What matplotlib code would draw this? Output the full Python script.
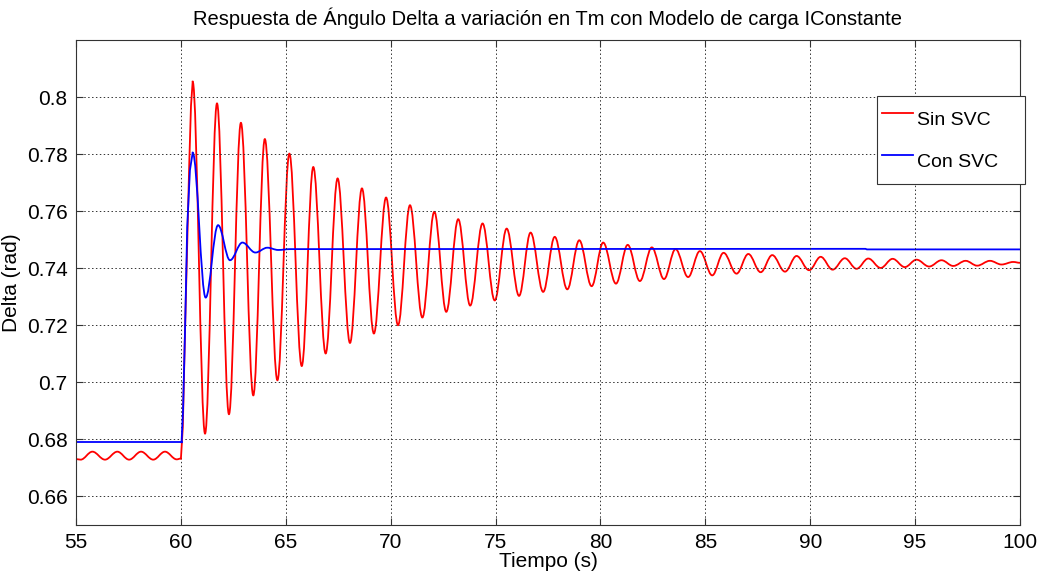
import matplotlib
matplotlib.use('Agg')
import matplotlib.pyplot as plt
from matplotlib.path import Path
from matplotlib.patches import PathPatch
from matplotlib.lines import Line2D

plt.rcParams['font.family'] = ['Liberation Sans', 'DejaVu Sans']

# Sin SVC (red): pre-step ripple, step rise, then peaks/troughs
red_pre_t = [55.0, 55.22, 55.78, 56.38, 56.97, 57.53, 58.1, 58.68, 59.24, 59.8, 60.0]
red_pre_v = [0.6731, 0.6729, 0.6757, 0.6729, 0.6757, 0.6729, 0.6757, 0.6729, 0.6757, 0.6730, 0.6733]
red_rise_t = [60.0, 60.09, 60.2, 60.28, 60.4, 60.48, 60.56]
red_rise_v = [0.6733, 0.6843, 0.7194, 0.7428, 0.7775, 0.797, 0.8054]
red_ext_t = [60.56, 61.15, 61.72, 62.29, 62.86, 63.45, 64.0, 64.6, 65.17, 65.76,
             66.31, 66.9, 67.47, 68.06, 68.63, 69.2, 69.78, 70.35, 70.92, 71.51,
             72.08, 72.65, 73.22, 73.79, 74.38, 74.96, 75.53, 76.12, 76.67, 77.27,
             77.82, 78.42, 78.99, 79.58, 80.13, 80.74, 81.3, 81.88, 82.45, 83.03,
             83.58, 84.18, 84.74, 85.33, 85.87, 86.49, 87.05, 87.64, 88.19, 88.8,
             89.35, 89.95, 90.5, 91.07, 91.65, 92.21, 92.77, 93.36, 93.93, 94.51,
             95.07, 95.67, 96.26, 96.82, 97.41, 97.96, 98.57, 99.12, 99.68, 100.0]
red_ext_v = [0.8054, 0.682, 0.7978, 0.6888, 0.791, 0.6954, 0.7853, 0.7007, 0.7802, 0.7057,
             0.7755, 0.7101, 0.7715, 0.7138, 0.768, 0.7171, 0.7648, 0.72, 0.7621, 0.7227,
             0.7598, 0.7247, 0.7572, 0.7269, 0.7557, 0.7287, 0.7539, 0.7303, 0.7525, 0.7317,
             0.751, 0.7326, 0.7498, 0.7337, 0.749, 0.7346, 0.7482, 0.7355, 0.7473, 0.7362,
             0.7467, 0.7369, 0.746, 0.7375, 0.7454, 0.7381, 0.745, 0.7386, 0.7446, 0.7388,
             0.7443, 0.7393, 0.744, 0.7395, 0.7435, 0.7398, 0.7434, 0.7401, 0.7433, 0.7404,
             0.743, 0.7406, 0.7428, 0.7408, 0.7426, 0.7409, 0.7426, 0.7413, 0.7422, 0.7419]

# Con SVC (blue)
blue_pre_t = [55.0, 60.03]
blue_pre_v = [0.679, 0.679]
blue_rise_t = [60.03, 60.1, 60.2, 60.3, 60.43, 60.56]
blue_rise_v = [0.679, 0.69, 0.7194, 0.7545, 0.7744, 0.7805]
blue_ext_t = [60.56, 61.18, 61.77, 62.34, 62.93, 63.55, 64.12, 64.64, 65.2, 92.64, 92.7, 100.0]
blue_ext_v = [0.7805, 0.7297, 0.7551, 0.7428, 0.749, 0.7455, 0.7472, 0.7464, 0.7467, 0.7468, 0.7466, 0.7466]

xticks = [55, 60, 65, 70, 75, 80, 85, 90, 95, 100]
yticks = [0.66, 0.68, 0.70, 0.72, 0.74, 0.76, 0.78, 0.80]
ytick_labels = ['0.66', '0.68', '0.7', '0.72', '0.74', '0.76', '0.78', '0.8']


def smooth_curve(ax, ts, vs, color, lw):
    # cubic bezier between extrema, flat tangents at each one
    k = 0.3642
    verts = [(ts[0], vs[0])]
    codes = [Path.MOVETO]
    for i in range(len(ts) - 1):
        dt = ts[i + 1] - ts[i]
        verts += [(ts[i] + k * dt, vs[i]), (ts[i + 1] - k * dt, vs[i + 1]), (ts[i + 1], vs[i + 1])]
        codes += [Path.CURVE4] * 3
    patch = PathPatch(Path(verts, codes), facecolor='none', edgecolor=color, lw=lw,
                      transform=ax.transData, capstyle='round', joinstyle='round')
    ax.add_patch(patch)


fig = plt.figure(figsize=(10.46, 5.74), dpi=100)
ax = fig.add_axes([0.0727, 0.0854, 0.9024, 0.8449])

lw = 1.3
smooth_curve(ax, red_pre_t, red_pre_v, '#ff0000', lw)
ax.plot(red_rise_t, red_rise_v, color='#ff0000', lw=lw)
smooth_curve(ax, red_ext_t, red_ext_v, '#ff0000', lw)

ax.plot(blue_pre_t, blue_pre_v, color='#0000ff', lw=lw)
ax.plot(blue_rise_t, blue_rise_v, color='#0000ff', lw=lw)
smooth_curve(ax, blue_ext_t, blue_ext_v, '#0000ff', lw)

ax.set_xlim(55, 100)
ax.set_ylim(0.65, 0.82)
ax.set_xticks(xticks)
ax.set_yticks(yticks)
ax.set_yticklabels(ytick_labels)
ax.grid(True, linestyle=(0, (1.5, 2.5)), color='#333333', lw=0.7)
ax.tick_params(direction='in', top=True, right=True, length=5, labelsize=15,
               color='#333333', pad=6)
for s in ax.spines.values():
    s.set_color('#333333')
    s.set_linewidth(0.8)

ax.set_title('Respuesta de Ángulo Delta a variación en Tm con Modelo de carga IConstante',
             fontsize=14.5, pad=11)
ax.set_xlabel('Tiempo (s)', fontsize=15, labelpad=0)
ax.set_ylabel('Delta (rad)', fontsize=15, labelpad=4)

handles = [Line2D([], [], color='#ff0000', lw=1.3), Line2D([], [], color='#0000ff', lw=1.3)]
leg = ax.legend(handles, ['Sin SVC    ', 'Con SVC    '], loc='upper left',
                bbox_to_anchor=(0.8485, 0.8845), borderaxespad=0, fontsize=14,
                fancybox=False, framealpha=1, edgecolor='#333333',
                handlelength=1.6, handleheight=2.45, handletextpad=0.2,
                labelspacing=0.31, borderpad=0.27)
leg.get_frame().set_linewidth(0.8)

fig.savefig('out.png', dpi=100)
